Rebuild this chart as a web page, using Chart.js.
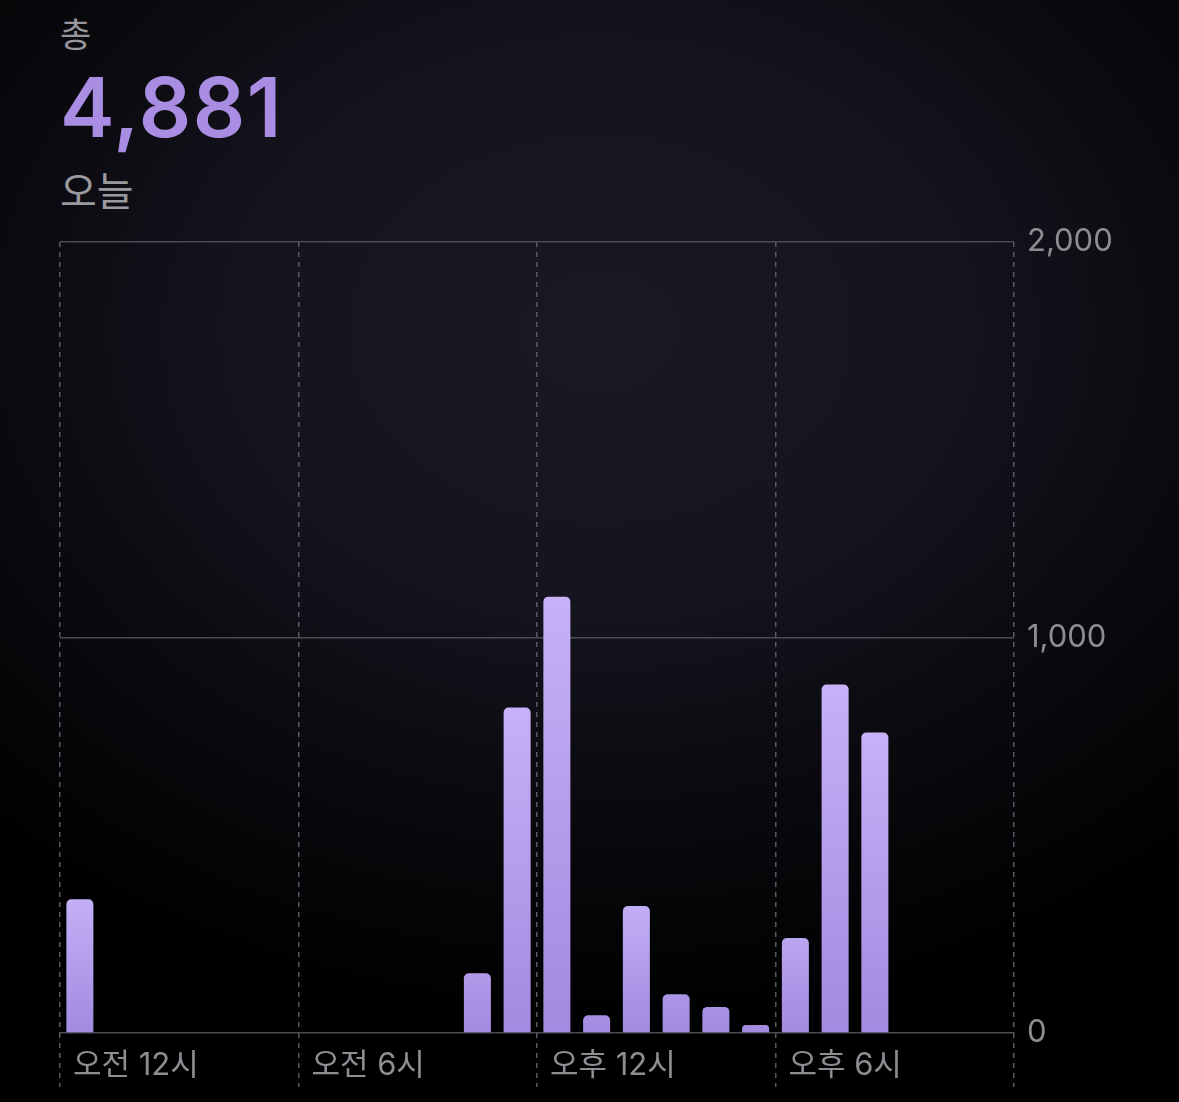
<!DOCTYPE html>
<html lang="ko">
<head>
<meta charset="utf-8">
<title>걸음 수</title>
<script src="https://cdn.jsdelivr.net/npm/chart.js@4.4.1/dist/chart.umd.min.js"></script>
<style>
    html, body {
        margin: 0;
        padding: 0;
        width: 1179px;
        height: 1102px;
        overflow: hidden;
        background: radial-gradient(ellipse 900px 700px at 600px 330px, #1b1826 0%, #15131d 40%, #08070b 75%, #000 100%);
        font-family: "Noto Sans CJK KR", "Noto Sans", sans-serif;
    }
    .header {
        position: absolute;
        left: 60px;
        top: 0;
    }
    .label {
        position: absolute;
        left: 0;
        top: 8px;
        font-size: 34px;
        color: #98979d;
        white-space: nowrap;
    }
    .total {
        position: absolute;
        left: 0;
        top: 63px;
        font-family: "Inter", "Noto Sans", sans-serif;
        font-size: 82px;
        font-weight: 600;
        color: #a98de3;
        letter-spacing: 1.5px;
        line-height: 1.1;
    }
    .period {
        position: absolute;
        left: 0;
        top: 160px;
        font-size: 40px;
        color: #9a999e;
        white-space: nowrap;
    }
    canvas {
        position: absolute;
        left: 0;
        top: 0;
    }
</style>
</head>
<body>
<div class="header">
    <div class="label">총</div>
    <div class="total">4,881</div>
    <div class="period">오늘</div>
</div>
<canvas id="steps" width="1179" height="1102"></canvas>

<script>
    // Data
    var hours = ["오전 12시", "오전 1시", "오전 2시", "오전 3시", "오전 4시", "오전 5시",
                 "오전 6시", "오전 7시", "오전 8시", "오전 9시", "오전 10시", "오전 11시",
                 "오후 12시", "오후 1시", "오후 2시", "오후 3시", "오후 4시", "오후 5시",
                 "오후 6시", "오후 7시", "오후 8시", "오후 9시", "오후 10시", "오후 11시"];
    var steps = [338, 0, 0, 0, 0, 0, 0, 0, 0, 0, 151, 823,
                 1103, 45, 321, 98, 66, 20, 240, 881, 760, 0, 0, 0];
    var shownHours = ["오전 12시", "오전 6시", "오후 12시", "오후 6시"];
    var yTicks = [0, 1000, 2000];

    Chart.defaults.font.family = '"Inter", "Noto Sans CJK KR", "Noto Sans", sans-serif';
    Chart.defaults.color = "#8e8d93";

    // Bar fill: light at the top, darker toward the base
    function mix(a, b, t) {
        var r = Math.round(a[0] + (b[0] - a[0]) * t);
        var g = Math.round(a[1] + (b[1] - a[1]) * t);
        var bl = Math.round(a[2] + (b[2] - a[2]) * t);
        return "rgb(" + r + "," + g + "," + bl + ")";
    }
    var light = [197, 178, 247];
    var dark = [162, 138, 224];

    function barFill(context) {
        var chart = context.chart;
        var y = chart.scales && chart.scales.y;
        if (!chart.chartArea || !y || context.raw === undefined) {
            return mix(light, dark, 0.5);
        }
        var top = y.getPixelForValue(context.raw);
        var base = y.getPixelForValue(0);
        var h = base - top;
        if (h < 1) return mix(light, dark, 1);
        var t = Math.min(h / 140, 1);
        var g = chart.ctx.createLinearGradient(0, top, 0, base);
        g.addColorStop(0, mix(dark, light, t));
        g.addColorStop(1, mix(dark, dark, 1));
        return g;
    }

    var ctx = document.getElementById("steps").getContext("2d");
    var stepsChart = new Chart(ctx, {
        type: "bar",
        data: {
            labels: hours,
            datasets: [{
                label: "걸음",
                data: steps,
                backgroundColor: barFill,
                borderRadius: 5,
                borderSkipped: "start",
                barPercentage: 0.68,
                categoryPercentage: 1
            }]
        },
        options: {
            responsive: false,
            animation: false,
            devicePixelRatio: 1,
            layout: {
                padding: {left: 60, top: 242, right: 0, bottom: 0}
            },
            plugins: {
                legend: {display: false},
                tooltip: {enabled: false}
            },
            scales: {
                x: {
                    offset: true,
                    grid: {
                        offset: true,
                        color: function (c) {
                            if (c.index === undefined || c.index % 6 === 0) return "#5a5860";
                            return "rgba(0,0,0,0)";
                        },
                        lineWidth: 1.5,
                        drawTicks: true,
                        tickLength: 54,
                        tickBorderDash: [5, 5],
                        tickColor: function (c) {
                            if (c.index === undefined || c.index % 6 === 0) return "#5a5860";
                            return "rgba(0,0,0,0)";
                        }
                    },
                    border: {display: false, dash: [5, 5]},
                    ticks: {
                        autoSkip: false,
                        maxRotation: 0,
                        align: "start",
                        labelOffset: -7,
                        padding: -40,
                        color: "#8e8d93",
                        font: {size: 31},
                        callback: function (value, i) {
                            var name = hours[i];
                            return shownHours.indexOf(name) >= 0 ? name : "";
                        }
                    },
                    afterFit: function (scale) {
                        scale.height = 69;
                    }
                },
                y: {
                    position: "right",
                    min: 0,
                    max: 2000,
                    afterBuildTicks: function (scale) {
                        scale.ticks = yTicks.map(function (v) { return {value: v}; });
                    },
                    grid: {
                        color: "#4c4a52",
                        lineWidth: 1.5,
                        drawTicks: false
                    },
                    border: {display: false},
                    ticks: {
                        padding: 13,
                        crossAlign: "near",
                        color: "#8e8d93",
                        font: {size: 31},
                        callback: function (v) {
                            return v.toLocaleString("en-US");
                        }
                    },
                    afterFit: function (scale) {
                        scale.width = 165;
                    }
                }
            }
        }
    });
</script>
</body>
</html>
